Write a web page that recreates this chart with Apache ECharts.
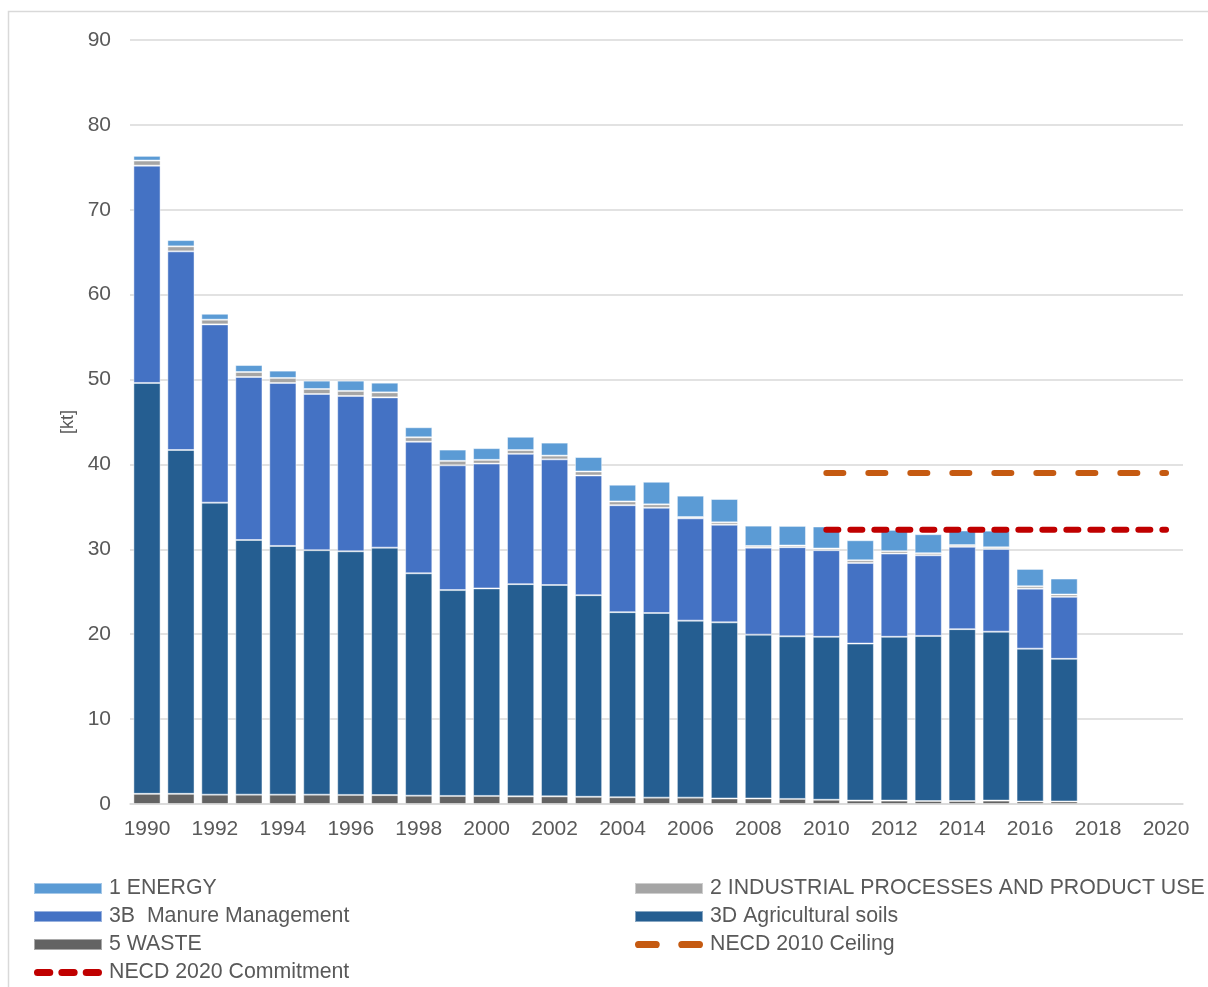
<!DOCTYPE html>
<html>
<head>
<meta charset="utf-8">
<script src="https://cdn.jsdelivr.net/npm/echarts@6/dist/echarts.min.js"></script>
<style>
html,body{margin:0;padding:0;background:#fff;}
#c{width:1208px;height:987px;}
</style>
</head>
<body>
<div id="c"></div>
<script>
const years = ['1990','1991','1992','1993','1994','1995','1996','1997','1998','1999','2000','2001','2002','2003','2004','2005','2006','2007','2008','2009','2010','2011','2012','2013','2014','2015','2016','2017','2018','2019','2020'];
const energy  = [0.55,0.74,0.70,0.82,0.86,0.98,1.21,1.14,1.18,1.33,1.38,1.57,1.53,1.70,1.97,2.66,2.52,2.75,2.39,2.31,2.59,2.36,2.51,2.24,1.72,1.96,2.04,1.88];
const ippu    = [0.60,0.59,0.55,0.59,0.59,0.59,0.59,0.59,0.52,0.52,0.44,0.44,0.44,0.47,0.44,0.40,0.15,0.28,0.20,0.20,0.20,0.31,0.28,0.24,0.20,0.20,0.28,0.28];
const manure  = [25.6,23.4,21.0,19.2,19.2,18.4,18.3,17.7,15.5,14.7,14.7,15.35,14.8,14.1,12.6,12.4,12.05,11.5,10.25,10.5,10.2,9.5,9.8,9.5,9.7,9.74,7.07,7.3];
const soils   = [48.4,40.5,34.4,30.0,29.3,28.8,28.7,29.15,26.2,24.25,24.45,25.0,24.9,23.75,21.8,21.75,20.85,20.75,19.3,19.15,19.2,18.5,19.3,19.45,20.25,19.9,18.0,16.8];
const waste   = [1.2,1.2,1.1,1.1,1.1,1.1,1.07,1.05,0.98,0.95,0.95,0.9,0.9,0.85,0.8,0.75,0.75,0.65,0.65,0.6,0.5,0.4,0.4,0.35,0.35,0.4,0.3,0.3];
const ceiling2010 = 39.0;
const commitment2020 = 32.3;
const lineStart = '2010';
const lineEnd = '2020';
const yTicks = [0,10,20,30,40,50,60,70,80,90];

const FONT = "'Liberation Sans', Arial, sans-serif";
const TXT = '#595959';
const chart = echarts.init(document.getElementById('c'), null, {renderer:'canvas'});

function bar(name, data, color){
  return {
    name: name, type:'bar', stack:'total', data: data,
    barCategoryGap:'20%',
    itemStyle:{color:color, borderColor:'rgba(255,255,255,0.45)', borderWidth:1},
    emphasis:{disabled:true}, animation:false
  };
}

// legend icons (rounded dashes)
function dashPath(segs, h){
  const r = h/2;
  return 'path://' + segs.map(function(s){
    const a = s[0]+r, b = s[1]-r;
    return 'M'+a+',0H'+b+'A'+r+','+r+' 0 0 1 '+b+','+h+'H'+a+'A'+r+','+r+' 0 0 1 '+a+',0Z';
  }).join(' ');
}
const redIcon = dashPath([[0,19],[24,43],[48,67]], 7);
const orangeIcon = dashPath([[0,24],[42,66]], 7);

const legendText = {color:TXT, fontSize:21.3, lineHeight:20, fontFamily:FONT, padding:[0,0,0,2]};

chart.setOption({
  animation:false,
  textStyle:{fontFamily:FONT},
  graphic:[{
    type:'rect', shape:{x:8.5,y:11.5,width:1300,height:1100},
    style:{fill:'none', stroke:'#d9d9d9', lineWidth:1.5}, silent:true, z:-10
  }],
  grid:{left:130, right:25, top:40, bottom:183, containLabel:false},
  xAxis:{
    type:'category', data:years,
    axisLine:{show:true, lineStyle:{color:'#d9d9d9', width:1.5}},
    axisTick:{show:false},
    axisLabel:{interval:1, color:TXT, fontSize:21, fontFamily:FONT, margin:15}
  },
  yAxis:{
    type:'value', min:yTicks[0], max:yTicks[yTicks.length-1], interval:10,
    name:'[kt]', nameLocation:'middle', nameGap:52, nameRotate:90,
    nameTextStyle:{color:TXT, fontSize:18, fontFamily:FONT},
    axisLine:{show:false}, axisTick:{show:false},
    axisLabel:{color:TXT, fontSize:21, fontFamily:FONT, margin:19},
    splitLine:{lineStyle:{color:'#d9d9d9', width:1.5}}
  },
  legend:[
    {
      orient:'vertical', left:33, top:878, padding:0, height:110,
      itemWidth:68, itemHeight:11, itemGap:7,
      textStyle:legendText,
      data:[
        {name:'1 ENERGY', icon:'rect'},
        {name:'3B  Manure Management', icon:'rect'},
        {name:'5 WASTE', icon:'rect'},
        {name:'NECD 2020 Commitment', icon:redIcon, itemStyle:{color:'#C00000', borderWidth:0}, lineStyle:{width:0}}
      ],
      selectedMode:false
    },
    {
      orient:'vertical', left:634, top:878, padding:0, height:110,
      itemWidth:68, itemHeight:11, itemGap:7,
      textStyle:legendText,
      data:[
        {name:'2 INDUSTRIAL PROCESSES AND PRODUCT USE', icon:'rect'},
        {name:'3D Agricultural soils', icon:'rect'},
        {name:'NECD 2010 Ceiling', icon:orangeIcon, itemStyle:{color:'#C55A11', borderWidth:0}, lineStyle:{width:0}}
      ],
      selectedMode:false
    }
  ],
  series:[
    bar('5 WASTE', waste, '#636363'),
    bar('3D Agricultural soils', soils, '#255E91'),
    bar('3B  Manure Management', manure, '#4472C4'),
    bar('2 INDUSTRIAL PROCESSES AND PRODUCT USE', ippu, '#A5A5A5'),
    bar('1 ENERGY', energy, '#5B9BD5'),
    {
      name:'NECD 2010 Ceiling', type:'line', z:5,
      data:[[lineStart, ceiling2010],[lineEnd, ceiling2010]],
      symbol:'none', showSymbol:false, color:'#C55A11',
      lineStyle:{color:'#C55A11', width:6, type:[17,25], cap:'round'},
      emphasis:{disabled:true}
    },
    {
      name:'NECD 2020 Commitment', type:'line', z:5,
      data:[[lineStart, commitment2020],[lineEnd, commitment2020]],
      symbol:'none', showSymbol:false, color:'#C00000',
      lineStyle:{color:'#C00000', width:6, type:[12,12], cap:'round'},
      emphasis:{disabled:true}
    }
  ]
});
</script>
</body>
</html>
